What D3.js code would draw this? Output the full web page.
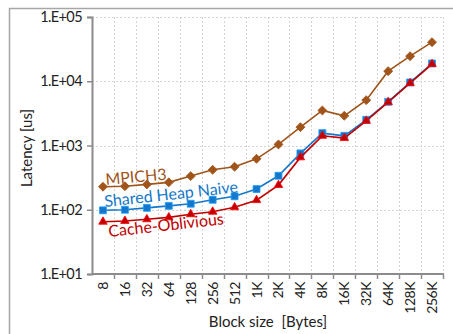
<!DOCTYPE html>
<html>
<head>
<meta charset="utf-8">
<script src="https://cdn.jsdelivr.net/npm/d3@7"></script>
<style>
  html, body { margin: 0; padding: 0; background: #fff; }
  svg { display: block; }
  text { font-family: Lato, "Open Sans", "DejaVu Sans", sans-serif; }
</style>
</head>
<body>
<svg id="chart" width="453" height="334"></svg>
<script>
// Block sizes on the x axis
const blockSizes = ["8", "16", "32", "64", "128", "256", "512", "1K", "2K", "4K",
                    "8K", "16K", "32K", "64K", "128K", "256K"];

// Latency in microseconds per block size
const mpich3 = [228, 232, 248, 267, 334, 419, 467, 621, 1040, 1930,
                3510, 2900, 5080, 14350, 24560, 40550];
const sharedHeapNaive = [98, 100, 107, 115, 124, 143, 162, 210, 338, 754,
                         1560, 1415, 2510, 4785, 9580, 18900];
const cacheOblivious = [65, 67, 71, 76, 85, 93, 109, 141, 242, 653,
                        1415, 1303, 2420, 4730, 9340, 18500];

const yTicks = [1e1, 1e2, 1e3, 1e4, 1e5];
const yTickLabels = ["1.E+01", "1.E+02", "1.E+03", "1.E+04", "1.E+05"];

const series = [
  { name: "MPICH3", values: mpich3, color: "#A0541A", marker: "diamond",
    label: { x: 106, y: 185, angle: -5 } },
  { name: "Shared Heap Naive", values: sharedHeapNaive, color: "#1477C9", marker: "square",
    label: { x: 105, y: 207, angle: -6.3 } },
  { name: "Cache-Oblivious", values: cacheOblivious, color: "#C00000", marker: "triangle",
    label: { x: 109, y: 237, angle: -6.3 } }
];

const svg = d3.select("#chart");
const plot = { left: 92, right: 443, top: 17, bottom: 274 };

// Outer chart frame (extends past the visible window on the right and bottom)
svg.append("path")
  .attr("d", "M9.5,340 V8.5 H460")
  .attr("fill", "none")
  .attr("stroke", "#a6a6a6")
  .attr("stroke-width", 1.5);

const x = d3.scaleBand().domain(blockSizes).range([plot.left, plot.right]).padding(0);
const y = d3.scaleLog().domain([1e1, 1e5]).range([plot.bottom, plot.top]);

// Gridlines
const grid = svg.append("g").attr("stroke", "#d4d4d4").attr("stroke-width", 1)
  .attr("stroke-dasharray", "2,2");
blockSizes.forEach((c, i) => {
  const gx = Math.round(x(c) + x.bandwidth()) + 0.5;
  grid.append("line").attr("x1", gx).attr("x2", gx).attr("y1", plot.top).attr("y2", plot.bottom);
});
yTicks.slice(1).forEach(t => {
  const gy = Math.round(y(t)) + 0.5;
  grid.append("line").attr("x1", plot.left).attr("x2", plot.right).attr("y1", gy).attr("y2", gy);
});

// Y axis
const yAxis = d3.axisLeft(y).tickValues(yTicks)
  .tickFormat((d, i) => yTickLabels[i]).tickSize(5).tickPadding(5);
const gy = svg.append("g").attr("transform", `translate(${plot.left},0)`).call(yAxis);
gy.select(".domain").attr("stroke", "#8c8c8c").attr("stroke-width", 2);
gy.selectAll(".tick line").attr("stroke", "#8c8c8c").attr("stroke-width", 1.5);
gy.selectAll(".tick text").attr("font-size", 14.5).attr("fill", "#222")
  .attr("font-family", "Lato, sans-serif").attr("letter-spacing", "-0.6");

// X axis: ticks on category boundaries, labels at centres
const xAxisG = svg.append("g");
xAxisG.append("line")
  .attr("x1", plot.left).attr("x2", plot.right + 1)
  .attr("y1", plot.bottom).attr("y2", plot.bottom)
  .attr("stroke", "#8c8c8c").attr("stroke-width", 2);
blockSizes.forEach(c => {
  const tx = Math.round(x(c) + x.bandwidth()) + 0.5;
  xAxisG.append("line").attr("x1", tx).attr("x2", tx)
    .attr("y1", plot.bottom).attr("y2", plot.bottom + 5)
    .attr("stroke", "#8c8c8c").attr("stroke-width", 1.5);
});
xAxisG.selectAll("text.xlab").data(blockSizes).join("text")
  .attr("class", "xlab")
  .attr("transform", d => `translate(${x(d) + x.bandwidth() / 2 + 5},${plot.bottom + 8}) rotate(-90)`)
  .attr("text-anchor", "end")
  .attr("font-size", 14)
  .attr("letter-spacing", "-0.5")
  .attr("fill", "#222")
  .text(d => d);

// Axis titles
svg.append("text")
  .attr("x", 268).attr("y", 327)
  .attr("text-anchor", "middle").attr("font-size", 15).attr("fill", "#222")
  .attr("xml:space", "preserve")
  .text("Block size  [Bytes]");
svg.append("text")
  .attr("transform", "translate(32,148) rotate(-90)")
  .attr("text-anchor", "middle").attr("font-size", 15).attr("fill", "#222")
  .text("Latency [us]");

// Series lines and markers
const cx = c => x(c) + x.bandwidth() / 2;
const line = d3.line().x((d, i) => cx(blockSizes[i])).y(d => y(d));

const symbolFor = {
  diamond: d3.symbol().type(d3.symbolSquare).size(40),
  square: d3.symbol().type(d3.symbolSquare).size(48),
  triangle: d3.symbol().type(d3.symbolTriangle2).size(52)
};

series.forEach(s => {
  const g = svg.append("g");
  g.append("path")
    .attr("d", line(s.values))
    .attr("fill", "none")
    .attr("stroke", s.color)
    .attr("stroke-width", 1.6);
  g.selectAll("path.mk").data(s.values).join("path")
    .attr("class", "mk")
    .attr("d", symbolFor[s.marker]())
    .attr("transform", (d, i) => {
      const t = `translate(${cx(blockSizes[i])},${y(d)})`;
      return s.marker === "diamond" ? t + " rotate(45)" : t;
    })
    .attr("fill", s.color)
    .attr("stroke", s.marker === "diamond" ? s.color : d3.color(s.color).brighter(0.8))
    .attr("stroke-width", 0.8);
  svg.append("text")
    .attr("transform", `translate(${s.label.x},${s.label.y}) rotate(${s.label.angle})`)
    .attr("font-size", 16)
    .attr("fill", s.color)
    .text(s.name);
});
</script>
</body>
</html>
